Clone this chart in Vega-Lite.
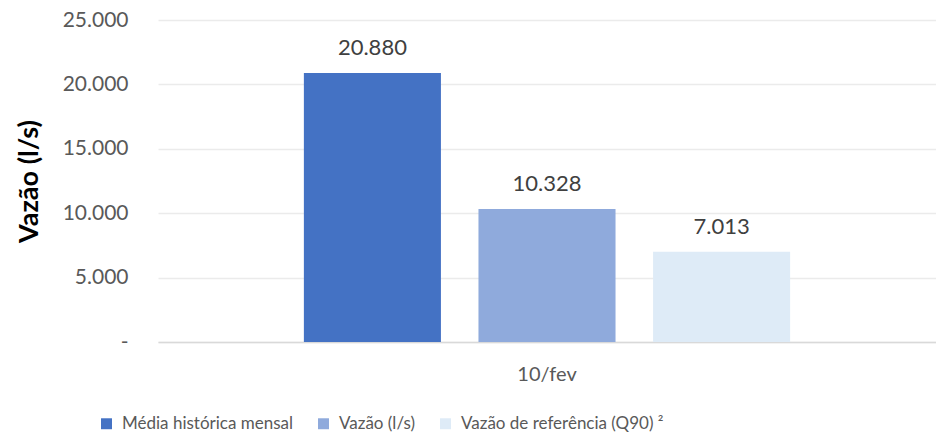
{
  "$schema": "https://vega.github.io/schema/vega-lite/v6.json",
  "width": 778,
  "height": 322,
  "autosize": {"type": "none"},
  "padding": {"left": 158, "top": 20, "right": 0, "bottom": 96},
  "background": "white",
  "config": {
    "view": {"stroke": null},
    "font": "Lato",
    "locale": {"number": {"decimal": ",", "thousands": ".", "grouping": [3], "currency": ["R$", ""]}}
  },
  "data": {
    "values": [
      {"data": "10/fev", "serie": "Média histórica mensal", "vazao": 20880},
      {"data": "10/fev", "serie": "Vazão (l/s)", "vazao": 10328},
      {"data": "10/fev", "serie": "Vazão de referência (Q90)", "vazao": 7013}
    ]
  },
  "encoding": {
    "x": {
      "field": "data",
      "type": "nominal",
      "title": null,
      "scale": {"paddingInner": 0, "paddingOuter": 0.3},
      "axis": {
        "labelAngle": 0,
        "labelFontSize": 20,
        "labelColor": "#595959",
        "labelPadding": 22,
        "domainColor": "#D9D9D9",
        "domainWidth": 1.5,
        "ticks": false
      }
    },
    "xOffset": {
      "field": "serie",
      "type": "nominal",
      "sort": null,
      "scale": {"paddingInner": 0.215, "paddingOuter": 0}
    },
    "y": {
      "field": "vazao",
      "type": "quantitative",
      "title": "Vazão (l/s)",
      "scale": {"domain": [0, 25000]},
      "axis": {
        "values": [0, 5000, 10000, 15000, 20000, 25000],
        "format": ",d",
        "labelExpr": "datum.value == 0 ? '-' : datum.label",
        "labelFontSize": 21,
        "labelColor": "#595959",
        "labelPadding": 30,
        "ticks": false,
        "domain": false,
        "gridColor": "#EBEBEB",
        "gridWidth": 1.5,
        "titleFontSize": 27,
        "titleFontWeight": "bold",
        "titleColor": "#000000",
        "titlePadding": 19
      }
    }
  },
  "layer": [
    {
      "mark": {"type": "bar"},
      "encoding": {
        "color": {
          "field": "serie",
          "type": "nominal",
          "sort": null,
          "scale": {"range": ["#4472C4", "#8FAADC", "#DEEBF7"]},
          "legend": {
            "title": null,
            "orient": "none",
            "legendX": -60,
            "legendY": 395,
            "direction": "horizontal",
            "symbolType": "square",
            "symbolSize": 120,
            "symbolStrokeWidth": 0,
            "symbolOffset": 0,
            "labelFontSize": 17,
            "labelColor": "#595959",
            "labelLimit": 0,
            "labelOffset": 7,
            "columnPadding": 22,
            "labelExpr": "datum.label == 'Vazão de referência (Q90)' ? datum.label + '  ²' : datum.label"
          }
        }
      }
    },
    {
      "mark": {"type": "text", "baseline": "alphabetic", "dy": -18, "fontSize": 22, "color": "#404040"},
      "encoding": {
        "text": {"field": "vazao", "type": "quantitative", "format": ",d"}
      }
    }
  ]
}
